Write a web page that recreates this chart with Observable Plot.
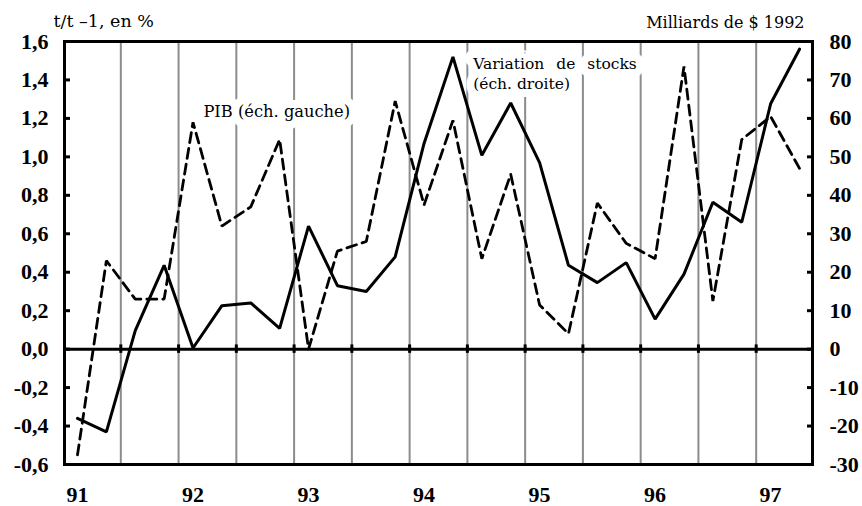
<!DOCTYPE html>
<html>
<head>
<meta charset="utf-8">
<script src="https://cdn.jsdelivr.net/npm/d3@7"></script>
<script src="https://cdn.jsdelivr.net/npm/@observablehq/plot@0.6"></script>
<style>
  body { margin: 0; background: #fff; }
</style>
</head>
<body>
<div id="chart"></div>
<script>
// Quarterly data, 1991 T1 .. 1997 T2 (index 0..25)
const yearLabels = ["91", "92", "93", "94", "95", "96", "97"];
const yearStartIndex = [0, 4, 8, 12, 16, 20, 24];

// PIB, t/t-1 en % (left scale)
const pib = [-0.55, 0.46, 0.26, 0.26, 1.18, 0.64, 0.74, 1.09, 0.00, 0.51, 0.56, 1.29,
             0.75, 1.19, 0.47, 0.91, 0.23, 0.08, 0.76, 0.55, 0.47, 1.47, 0.25, 1.09, 1.21, 0.94];

// Variation de stocks, milliards de $ 1992 (right scale)
const stocks = [-18, -21.5, 4.8, 21.8, 0.3, 11.3, 12, 5.4, 32, 16.5, 15, 24,
                53.5, 76, 50.4, 64, 48.5, 21.8, 17.3, 22.5, 7.8, 19.5, 38.2, 33, 63.8, 78];

const leftTicks = [-0.6, -0.4, -0.2, 0, 0.2, 0.4, 0.6, 0.8, 1.0, 1.2, 1.4, 1.6];
const leftTickLabels = ["-0,6", "-0,4", "-0,2", "0,0", "0,2", "0,4", "0,6", "0,8", "1,0", "1,2", "1,4", "1,6"];
const rightTicks = [-30, -20, -10, 0, 10, 20, 30, 40, 50, 60, 70, 80];
const ratio = 50; // right scale = left scale * 50

const leftTitle = "t/t –1, en %";
const rightTitle = "Milliards de $ 1992";
const pibNote = "PIB (éch. gauche)";
const stockNote1 = "Variation de stocks";
const stockNote2 = "(éch. droite)";

const rows = pib.map((v, i) => ({t: i, pib: v, stocks: stocks[i] / ratio}));
const gridAt = d3.range(1.5, 25, 2);

const textFont = "DejaVu Serif";

const chart = Plot.plot({
  width: 862,
  height: 506,
  marginLeft: 64,
  marginRight: 50,
  marginTop: 41,
  marginBottom: 42,
  style: {
    background: "white",
    color: "black",
    fontFamily: "Liberation Serif",
    fontSize: "22px",
    fontWeight: "bold"
  },
  x: {domain: [-0.45, 25.45], axis: null},
  y: {domain: [-0.6, 1.6], axis: null},
  marks: [
    Plot.ruleX(gridAt, {stroke: "#8c8c8c", strokeWidth: 2}),
    Plot.text([pibNote], {x: () => 4.36, y: () => 1.206, textAnchor: "start", lineAnchor: "bottom",
      fontFamily: textFont, fontSize: 16.3, fontWeight: "normal", fill: "black",
      stroke: "white", strokeWidth: 16, paintOrder: "stroke"}),
    Plot.text([stockNote1], {x: () => 13.70, y: () => 1.458, textAnchor: "start", lineAnchor: "bottom",
      fontFamily: textFont, fontSize: 15.5, fontWeight: "normal", fill: "black",
      stroke: "white", strokeWidth: 16, paintOrder: "stroke"}),
    Plot.text([stockNote2], {x: () => 13.70, y: () => 1.354, textAnchor: "start", lineAnchor: "bottom",
      fontFamily: textFont, fontSize: 15.5, fontWeight: "normal", fill: "black",
      stroke: "white", strokeWidth: 16, paintOrder: "stroke"}),
    Plot.ruleY([0], {stroke: "black", strokeWidth: 3}),
    Plot.ruleX(gridAt, {y1: -0.022, y2: 0.022, stroke: "black", strokeWidth: 3}),
    Plot.line(rows, {x: "t", y: "pib", stroke: "black", strokeWidth: 2.8,
      strokeDasharray: "10,6", strokeLinejoin: "miter"}),
    Plot.line(rows, {x: "t", y: "stocks", stroke: "black", strokeWidth: 3, strokeLinejoin: "miter"}),
    Plot.frame({stroke: "black", strokeWidth: 3}),
    Plot.axisY(leftTicks, {anchor: "left", tickSize: 0, tickPadding: 16, label: null,
      tickFormat: d => leftTickLabels[leftTicks.indexOf(d)]}),
    Plot.axisY(leftTicks, {anchor: "left", tickSize: -6, strokeWidth: 3, text: null, label: null}),
    Plot.axisY(rightTicks.map(v => v / ratio), {anchor: "right", tickSize: 0, tickPadding: 17, label: null,
      tickFormat: d => String(Math.round(d * ratio))}),
    Plot.axisY(rightTicks.map(v => v / ratio), {anchor: "right", tickSize: -6, strokeWidth: 3, text: null, label: null}),
    Plot.axisX(yearStartIndex, {anchor: "bottom", tickSize: 0, tickPadding: 22, label: null,
      tickFormat: d => yearLabels[yearStartIndex.indexOf(d)]}),
    Plot.text([leftTitle], {frameAnchor: "top-left", dx: -11, dy: -15, textAnchor: "start", lineAnchor: "bottom",
      fontFamily: textFont, fontSize: 17.5, fontWeight: "normal", fill: "black"}),
    Plot.text([rightTitle], {frameAnchor: "top-right", dx: -8, dy: -14, textAnchor: "end", lineAnchor: "bottom",
      fontFamily: textFont, fontSize: 16, fontWeight: "normal", fill: "black"})
  ]
});

d3.select(chart).selectAll("text")
  .filter(function() { return this.textContent === stockNote1; })
  .style("word-spacing", "7px");

document.getElementById("chart").appendChild(chart);
</script>
</body>
</html>
